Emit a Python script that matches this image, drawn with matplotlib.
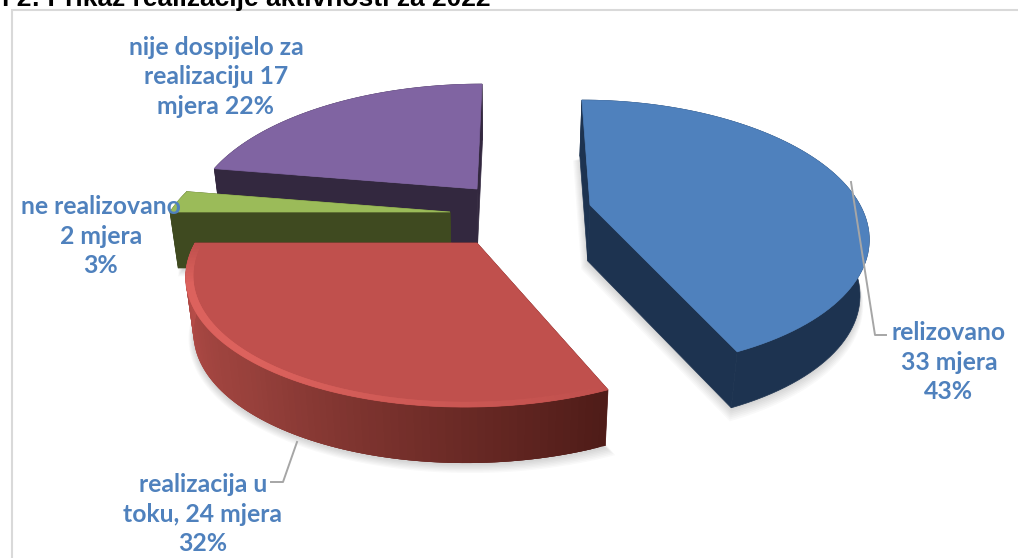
import numpy as np
import matplotlib
matplotlib.use('Agg')
import matplotlib.pyplot as plt
from matplotlib.patches import Polygon, Rectangle

# data
measures = [33, 24, 2, 17]
labels = ['relizovano\n33 mjera\n43%',
          'realizacija u\ntoku, 24 mjera\n32%',
          'ne realizovano\n2 mjera\n3%',
          'nije dospijelo za\nrealizaciju 17\nmjera 22%']
title = 'l 2: Prikaz realizacije aktivnosti za 2022'

# layout, in pixels of the 1018x558 picture
centers = [(590, 205), (477, 243), (450, 212), (477, 189)]
radius_x = [270, 282, 280, 277]
vanish_x = [545, 520, 545, 505]
label_pos = [(949, 362), (203, 514), (101, 236), (216, 77)]
top_colors = ['#4f81bd', '#c0504d', '#9bbb59', '#8064a2']
wall_colors = ['#1d3350', '#5a1f1c', '#3f4a20', '#33283f']
text_color = '#4f81bd'
RY, PERSP, DEPTH = 128, 0.22, 56
BOTTOM_X, BOTTOM_SCALE = 500, 0.975


def project(theta, r, i):
    # angle clockwise from 12 o'clock, far side drawn smaller
    c = centers[i]
    x = r * np.sin(theta)
    y = r * np.cos(theta)
    w = 1 + PERSP * y
    px = vanish_x[i] + (c[0] - vanish_x[i] + radius_x[i] * x) / w
    return px, c[1] - RY * y / w


def lower(px, py):
    return BOTTOM_X + (px - BOTTOM_X) * BOTTOM_SCALE, py + DEPTH


def arc(t0, t1, i, r=1.0, n=90):
    t = np.linspace(t0, t1, n)
    return np.column_stack(project(t, r, i))


def mix(a, b, f):
    a = np.array(matplotlib.colors.to_rgb(a))
    b = np.array(matplotlib.colors.to_rgb(b))
    return tuple(a + (b - a) * f)


fig = plt.figure(figsize=(10.18, 5.58), dpi=100)
ax = fig.add_axes([0, 0, 1, 1])
ax.set_xlim(0, 1018)
ax.set_ylim(558, 0)
ax.axis('off')

# chart frame
ax.add_patch(Rectangle((12, 10), 1100, 600, fc='white', ec='#d9d9d9', lw=1.5))
ax.text(2, 6, title, fontsize=19, fontweight='bold', family='Liberation Sans',
        ha='left', va='baseline', color='black')

angles = np.cumsum([0] + measures) / sum(measures) * 2 * np.pi
# painter's order: back slices first
order = [3, 2, 0, 1]

# soft shadow under the pie
for i in [0, 1, 2]:
    low = np.array([lower(*p) for p in arc(angles[i], angles[i + 1], i)])
    pts = np.vstack([[lower(*centers[i])], low])
    m = pts.mean(axis=0)
    for k in range(7):
        ax.add_patch(Polygon((pts - m) * (1 + 0.006 * k) + m + [0, 2 + k],
                             fc='black', ec='none', alpha=0.025))

for i in order:
    t0, t1 = angles[i], angles[i + 1]
    c = centers[i]
    top = arc(t0, t1, i)
    low = np.array([lower(*p) for p in top])
    hub_low = lower(*c)

    # radial walls
    for edge_top, edge_low in [(top[0], low[0]), (top[-1], low[-1])]:
        ax.add_patch(Polygon([c, edge_top, edge_low, hub_low], fc=wall_colors[i], ec=wall_colors[i], lw=0.5))

    # outer wall, red one gets a gradient along the arc
    if i == 1:
        for j in range(len(top) - 1):
            f = j / (len(top) - 2)
            if f < 0.55:
                col = mix('#4f1c18', '#96403b', f / 0.55)
            else:
                col = mix('#96403b', '#bd4f4b', (f - 0.55) / 0.45)
            # each quad reaches over the next one so no seams show
            k = min(j + 3, len(top) - 1)
            ax.add_patch(Polygon([top[j], top[k], low[k], low[j]], fc=col, ec='none'))
    else:
        ax.add_patch(Polygon(np.vstack([top, low[::-1]]), fc=wall_colors[i], ec=wall_colors[i], lw=0.5))

    # top face
    ax.add_patch(Polygon(np.vstack([[c], top]), fc=top_colors[i], ec=top_colors[i], lw=0.5))

    # bevel on the rim of the red slice
    if i == 1:
        inner = arc(t0, t1, i, r=0.975)
        for j in range(len(top) - 1):
            f = j / (len(top) - 2)
            col = mix('#c0504d', '#dc625d', min(1, f * 1.8) * (1 if f < 0.85 else (1 - f) / 0.15))
            k = min(j + 2, len(top) - 1)
            ax.add_patch(Polygon([top[j], top[k], inner[k], inner[j]], fc=col, ec='none'))

# leader lines
ax.plot([851, 875, 886], [182, 335, 335], color='#a6a6a6', lw=1.4)
ax.plot([297, 283, 271], [442, 482, 482], color='#a6a6a6', lw=1.4)

for lab, (x, y) in zip(labels, label_pos):
    ax.text(x, y, lab, fontsize=17.8, fontweight='bold', family='Lato', color=text_color,
            ha='center', va='center', multialignment='center', linespacing=1.36)

fig.savefig('out.png', dpi=100)
